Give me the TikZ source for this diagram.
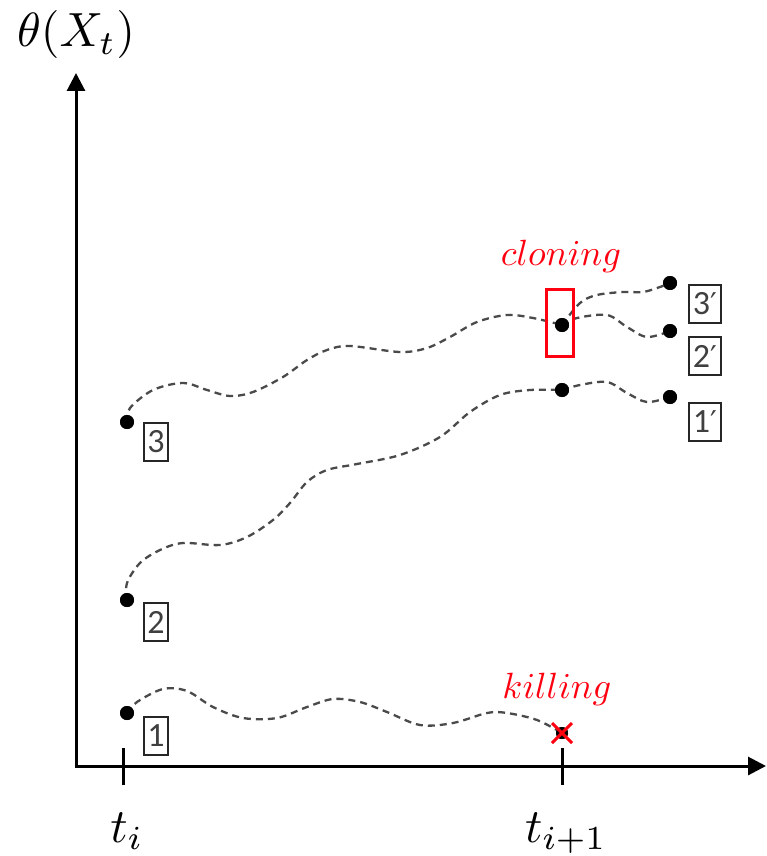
\documentclass[tikz,border=0pt]{standalone}
\usepackage{fontspec}
\newfontfamily\boxfont{Carlito}
\newfontfamily\primefont{DejaVu Sans}
\usetikzlibrary{arrows.meta}
\definecolor{dashgray}{HTML}{4A4A4A}
\definecolor{myred}{HTML}{FF0010}
\newcommand{\pr}{{\primefont\fontsize{30}{36}\selectfont ′}}
\tikzset{
  axis/.style={line width=3pt,-{Triangle[length=18pt,width=18pt]}},
  tickline/.style={line width=3pt},
  dot/.style={circle,fill=black,inner sep=0pt,minimum size=14pt},
  numbox/.style={draw=black!85,line width=1.5pt,inner sep=0pt,minimum height=38pt,minimum width=24pt,font=\boxfont\fontsize{34}{40}\selectfont,text=black!75},
  pnumbox/.style={numbox,minimum width=32pt},
  traj/.style={dashed,dash pattern=on 7pt off 5pt,line width=2.3pt,dashgray},
  redlabel/.style={text=myred,scale=3.65,anchor=base},
  biglabel/.style={scale=4.8,anchor=base}
}
\begin{document}
\begin{tikzpicture}[x=1pt,y=-1pt]
\useasboundingbox (0,0) rectangle (766,856);
% dots
\node[dot] (d3) at (127,422) {};
\node[dot] (d2) at (127,600) {};
\node[dot] (d1) at (127,713) {};
\node[dot] (clone) at (562,325) {};
\node[dot] (m1) at (562,390) {};
\node[dot] (e3) at (670,283) {};
\node[dot] (e2) at (670,331) {};
\node[dot] (e1) at (670,397) {};
\node[dot,minimum size=12pt] (kill) at (562,733) {};
% axes
\coordinate (o) at (76,766);
\coordinate (ytip) at (76,73);
\coordinate (xtip) at (766,766);
\draw[axis] (o) -- (ytip);
\draw[axis] ([xshift=-1.5pt]o) -- (xtip);
\coordinate (tia) at (123,748);
\coordinate (tib) at (123,785);
\coordinate (tja) at (562,748);
\coordinate (tjb) at (562,785);
\draw[tickline] (tia) -- (tib);
\draw[tickline] (tja) -- (tjb);
\node[biglabel] (ylab) at (76,47) {$\theta(X_t)$};
\node[biglabel] (tilab) at (127,842) {$t_i$};
\node[biglabel] (tjlab) at (566,842) {$t_{i+1}$};
% trajectories
\draw[traj] plot[smooth,tension=0.55] coordinates {(d3.center) (130,408) (153,390) (183,383) (207,390) (230,396) (253,392) (283,377) (307,360) (327,350) (350,346) (400,352) (427,348) (450,337) (477,322) (507,315) (533,318) (clone.center)};
\draw[traj] plot[smooth,tension=0.55] coordinates {(d2.center) (127,583) (140,563) (160,550) (183,543) (220,545) (247,537) (273,520) (290,503) (307,482) (327,470) (357,464) (400,455) (440,437) (470,412) (500,395) (530,390) (m1.center)};
\draw[traj] plot[smooth,tension=0.55] coordinates {(d1.center) (137,702) (163,689) (187,691) (213,707) (243,718) (277,718) (307,707) (333,699) (360,702) (387,712) (420,725) (453,723) (487,713) (507,713) (537,720) (kill.center)};
\draw[traj] plot[smooth,tension=0.55] coordinates {(clone.center) (580,303) (597,295) (623,292) (643,292) (660,287) (e3.center)};
\draw[traj] plot[smooth,tension=0.55] coordinates {(clone.center) (577,318) (607,315) (627,327) (647,337) (e2.center)};
\draw[traj] plot[smooth,tension=0.55] coordinates {(m1.center) (580,385) (607,382) (627,393) (647,402) (e1.center)};
% redraw dots on top
\foreach \n in {d3,d2,d1,clone,m1,e3,e2,e1} {\fill (\n.center) circle[radius=7pt];}
\fill (kill.center) circle[radius=6pt];
\draw[myred,line width=3pt] ([shift={(-10,-10)}]kill.center) -- ([shift={(10,10)}]kill.center);
\draw[myred,line width=3pt] ([shift={(-10,10)}]kill.center) -- ([shift={(10,-10)}]kill.center);
% cloning box
\node[draw=myred,line width=3pt,minimum width=27pt,minimum height=67pt,inner sep=0pt] (clonebox) at (560,323) {};
% labels
\node[numbox] (b3) at (156,442) {3};
\node[numbox] (b2) at (156,622) {2};
\node[numbox] (b1) at (156,736) {1};
\node[pnumbox] (b3p) at (705,304) {3\pr};
\node[pnumbox] (b2p) at (705,356) {2\pr};
\node[pnumbox] (b1p) at (705,422) {1\pr};
\node[redlabel] (cl) at (561,265) {$cloning$};
\node[redlabel] (kl) at (557,698) {$killing$};
\end{tikzpicture}
\end{document}
